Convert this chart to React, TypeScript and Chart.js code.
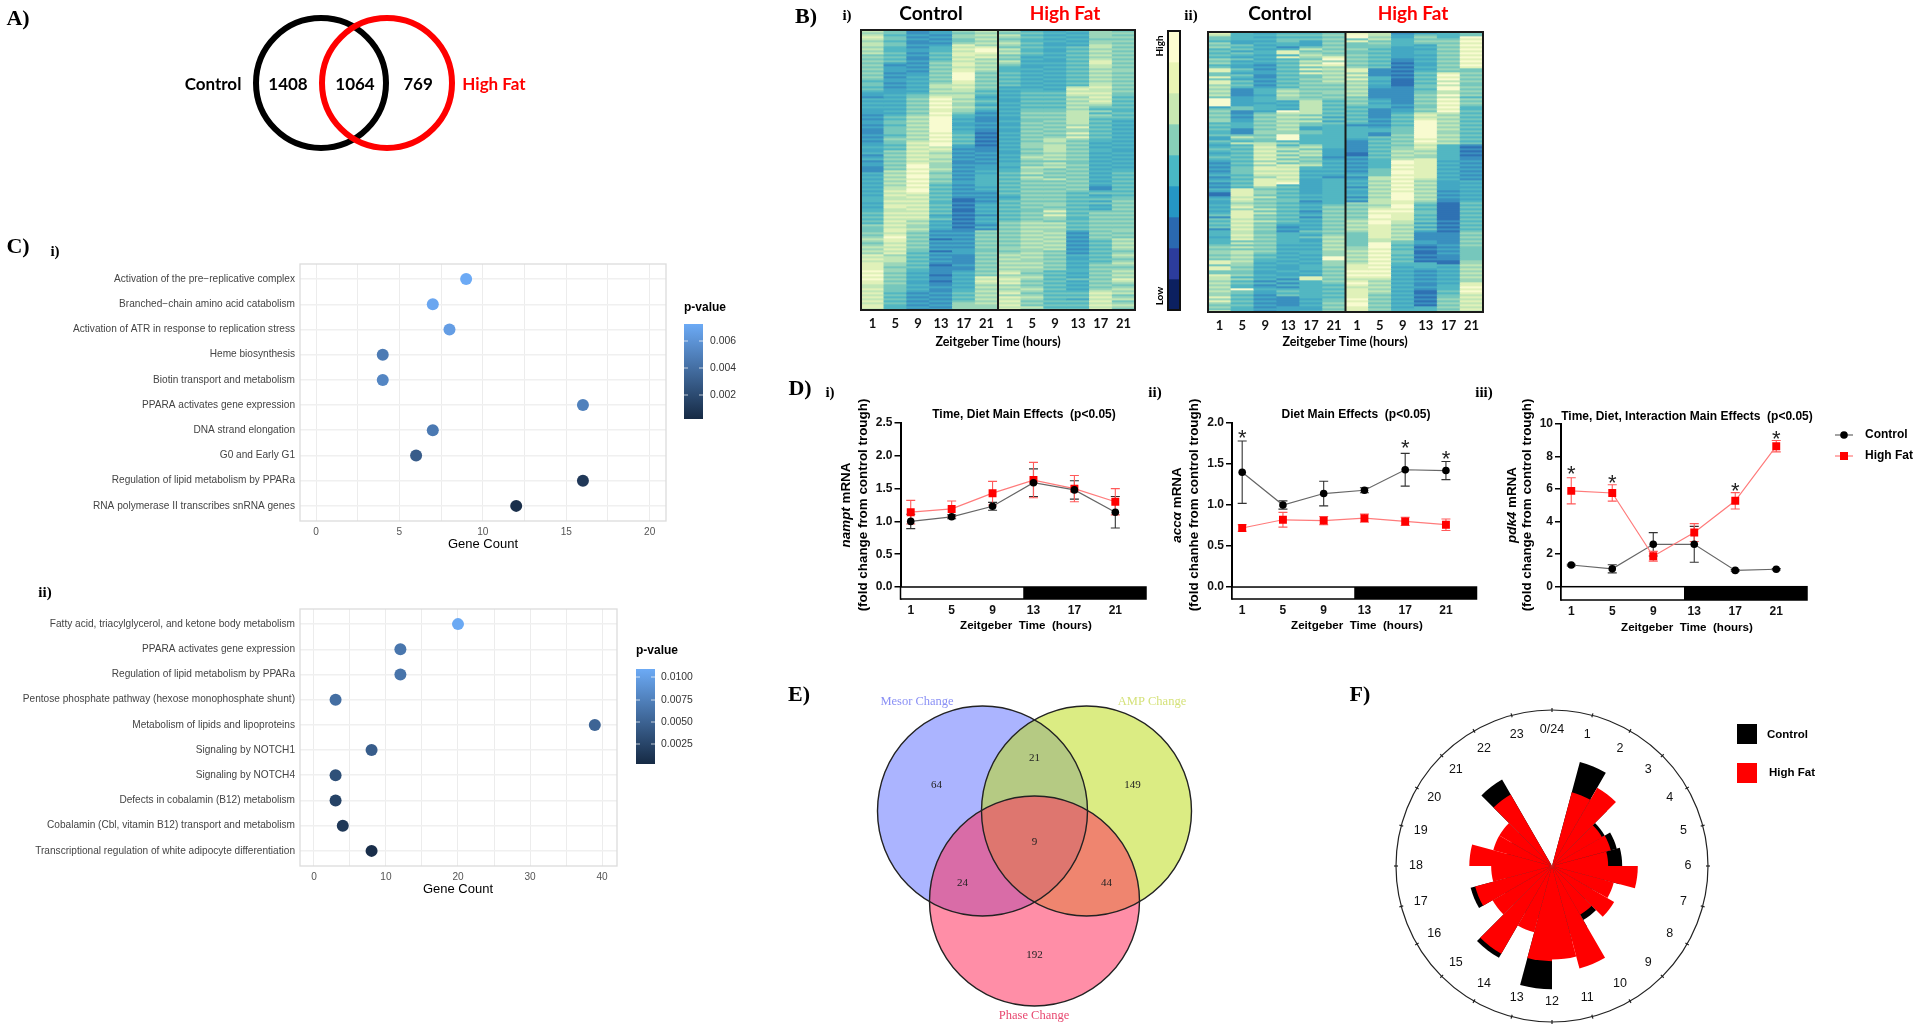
import React, { useEffect, useRef } from "react";
import { Chart, registerables } from "chart.js";

Chart.register(...registerables);

const SANS = '"Liberation Sans", Arial, sans-serif';
const SERIF = '"Liberation Serif", serif';
const LATO = 'Lato, "Noto Sans", sans-serif';

// ---------- Panel A ----------
const vennACounts = ["1408", "1064", "769"];
const vennANames = ["Control", "High Fat"];

// ---------- Panel B ----------
const heatHours = ["1", "5", "9", "13", "17", "21", "1", "5", "9", "13", "17", "21"];
// one string per heatmap column, top to bottom; each digit is a colour level
const heatColsI = [
  "7678767767 6756565656 5656545545 4332434343 3323233232 2232323343 3423423322 2434343434 3434443434 4545454655 5656765676 7687878888 9898988778 7878787887",
  "5545545544 4545453233 3232332323 3343434343 4345455455 5545655454 6565656565 7676767677 8787787887 7878787878 8789887878 7867776656 6565656555 5454545444",
  "2232322323 3232232323 2334343434 3455656565 6567676767 6767678787 8787878998 9899898989 9878787878 7878767667 6565656565 5454545454 4343433434 3232323232",
  "3323232344 4545456565 6565656776 7678989898 8989999999 9898989978 7677676667 6566565454 5454544545 4534534343 2323132323 1323232122 2212212232 2323232323",
  "6566556878 7887878878 8999988787 7677676676 6544343343 4454545332 3232322323 2323233232 3232112121 1212121212 2323232323 3322222322 3434343434 4545456666",
  "7676767689 9878676767 6565656565 4543454354 3232223232 2121212122 2323232333 4344444434 3232323434 3424343242 6565656565 5656565656 5658787676 7676767666",
  "6576567657 6756576544 4545454534 3434334343 4343343343 3434343434 3343434434 4545454545 4543454545 4545456565 6565656566 5676767676 7867878676 7868787878",
  "4545445454 4543434334 3434343434 4545454545 5656556565 6565656665 6567656576 6757656565 6565656565 5656567676 7676767676 6767667676 6567656567 6567656576",
  "3434343343 3434334343 4343434343 4545454545 5656565656 5656776777 7676757675 6565756565 6565656656 8686657676 6767676767 5656565656 4545454545 4545454545",
  "4343434354 5454545454 5454545478 7876767676 7777777686 6868656565 6565655656 5656565656 5454545454 5454454545 3232323232 3243343434 4343534343 4545354545",
  "6666566776 7676788776 7676767787 7878787654 6465454545 4545443434 4343434343 4343434322 4534535343 5656565656 5656545454 5454545656 5656565656 7878787878",
  "5656565656 5656565656 6565656565 6554545454 4545434343 4343434343 3434343434 4545454545 4545565656 5656565656 6565767676 5676567656 7676876567 6756756765",
];
const heatColsII = [
  "8755465645 4546564588 5585886767 6759999356 5656645454 4533543454 3454323232 3423423243 1134334343 4525454524 4434445656 6565885885 5877676767 6686865658",
  "4444335453 5435343354 3543545422 2233333552 2323344422 2575474545 4545454555 5454545488 8878767868 8887878787 7878575757 7676766565 5646454495 5454545444",
  "3434343434 4343432323 3223232344 4344434443 5656565656 6565577878 7878686887 8768888656 6575656575 7565756565 5656565656 5454434343 3434242343 3232323232",
  "4545544248 8484545454 5454545467 6766343439 7676767676 6999464675 7575758787 8787894545 4545545454 5454543232 4444443434 3434343334 3342424245 4522222333",
  "4545333575 6765768585 8556565656 5656777777 7575755335 5444446757 6756567443 4343333333 3434234342 3424343435 4353343434 4343434443 4388444444 4443434334",
  "5656565656 5689698676 7676765656 6565454545 4535354444 4444444433 3323434343 4324444444 4444445656 5656565656 5676767676 6699666565 6565654545 4545565656",
  "8995855565 5656565688 6868676767 6756565454 5454542444 4443222222 1132323232 3423434243 3424265656 5656767676 5555555667 6767678889 8987898788 8889899888",
  "7767565545 4545454522 2244343322 2223434422 2223232344 2254545454 5454444455 5577676767 6767776789 8998998888 8887799989 8989898989 8987676767 6565656565",
  "2334444333 3332212121 2121111222 2222223233 4545454555 5656565667 6767998989 9898989898 9999889989 8888776767 6767554545 5454544343 4343434343 4343434344",
  "3565653434 4343433434 5454545545 5656565565 7878999999 9998987876 7668888888 8887676767 6767654545 5454535353 2222332121 1212144432 3232322321 1212121444",
  "4445656565 6565656565 8989797997 7979898989 7676767676 6767674444 4444343434 3434333332 3232211111 1111212121 2222223232 3222114343 4343434445 4556565656",
  "5598989898 9898989855 6565655656 5646565445 4545454545 4545452121 2122323232 3232434343 4343454545 4545454545 6565656555 5555667676 7676688989 8787878787",
];
const heatRowCount = 140;
const heatLevels: any = {
  "1": "#2f72b3", "2": "#3a90bf", "3": "#43a8c3", "4": "#52b7c2", "5": "#76c7bc",
  "6": "#9bd6b9", "7": "#c1e6b6", "8": "#e0f1b9", "9": "#f8fbd0",
};
const colorbarSteps = ["#fdfdd0", "#e9f5b5", "#c8e8b2", "#88cfb8", "#49b7c4", "#2596c4", "#2a69b0", "#2c3c9c", "#0c2060"];

// ---------- Panel C ----------
const pathwaysI = [
  "Activation of the pre\u2212replicative complex", "Branched\u2212chain amino acid catabolism",
  "Activation of ATR in response to replication stress", "Heme biosynthesis", "Biotin transport and metabolism",
  "PPARA activates gene expression", "DNA strand elongation", "G0 and Early G1",
  "Regulation of lipid metabolism by PPARa", "RNA polymerase II transcribes snRNA genes",
];
const geneCountI = [9, 7, 8, 4, 4, 16, 7, 6, 16, 12];
const pValueI = [0.0073, 0.0071, 0.0066, 0.0047, 0.0053, 0.005, 0.0046, 0.003, 0.001, 0.0005];
const pathwaysII = [
  "Fatty acid, triacylglycerol, and ketone body metabolism", "PPARA activates gene expression",
  "Regulation of lipid metabolism by PPARa", "Pentose phosphate pathway (hexose monophosphate shunt)",
  "Metabolism of lipids and lipoproteins", "Signaling by NOTCH1", "Signaling by NOTCH4",
  "Defects in cobalamin (B12) metabolism", "Cobalamin (Cbl, vitamin B12) transport and metabolism",
  "Transcriptional regulation of white adipocyte differentiation",
];
const geneCountII = [20, 12, 12, 3, 39, 8, 3, 3, 4, 8];
const pValueII = [0.0108, 0.0066, 0.0064, 0.0059, 0.0051, 0.0045, 0.0034, 0.0023, 0.0014, 0.0006];

// ---------- Panel D ----------
const zeitgeber = [1, 5, 9, 13, 17, 21];
const namptControl = [1.0, 1.07, 1.23, 1.59, 1.48, 1.14];
const namptControlErr = [0.11, 0.03, 0.06, 0.21, 0.14, 0.24];
const namptHighFat = [1.14, 1.19, 1.43, 1.63, 1.5, 1.3];
const namptHighFatErr = [0.18, 0.12, 0.18, 0.27, 0.2, 0.2];
const accControl = [1.4, 1.0, 1.14, 1.18, 1.43, 1.42];
const accControlErr = [0.38, 0.05, 0.15, 0.03, 0.2, 0.11];
const accHighFat = [0.72, 0.82, 0.81, 0.84, 0.8, 0.76];
const accHighFatErr = [0.04, 0.09, 0.05, 0.05, 0.05, 0.07];
const pdkControl = [1.33, 1.1, 2.6, 2.6, 1.0, 1.07];
const pdkControlErr = [0.05, 0.25, 0.72, 1.1, 0.05, 0.05];
const pdkHighFat = [5.88, 5.75, 1.87, 3.32, 5.27, 8.62];
const pdkHighFatErr = [0.8, 0.5, 0.3, 0.55, 0.5, 0.35];
const accStars = [[1, 1.89], [17, 1.77], [21, 1.63]];
const pdkStars = [[1, 7.28], [5, 6.75], [17, 6.24], [21, 9.45]];

// ---------- Panel E ----------
const vennESets = ["Mesor Change", "AMP Change", "Phase Change"];
const vennECounts = ["64", "21", "149", "9", "24", "44", "192"];

// ---------- Panel F ----------
const hourLabels = ["0/24","1","2","3","4","5","6","7","8","9","10","11","12","13","14","15","16","17","18","19","20","21","22","23"];
const roseControl = [0, 69, 50, 39, 43, 45, 45, 35, 30, 40, 45, 50, 79, 35, 68, 35, 54, 30, 30, 30, 30, 64, 0, 0];
const roseHighFat = [0, 49, 58, 37, 39, 36, 55, 41, 46, 36, 68, 60, 61, 44, 65, 44, 51, 39, 53, 39, 39, 53, 0, 0];

// ---------- helpers ----------
const W = 1920, H = 1032;
const basePlugins = { legend: { display: false }, tooltip: { enabled: false }, title: { display: false } };

function box(x0: number, y0: number, x1: number, y1: number, ml = 0, mb = 0) {
  return { padding: { left: x0 - ml, top: y0, right: W - x1, bottom: H - y1 - mb } };
}

function textLayer(items: any[]) {
  return {
    id: "textLayer",
    afterDraw(chart: any) {
      const c = chart.ctx;
      items.forEach((t) => {
        c.save();
        c.fillStyle = t.color || "#000";
        c.textBaseline = "middle";
        c.translate(t.x, t.y);
        if (t.rot) c.rotate(t.rot);
        if (t.parts) {
          let total = 0;
          t.parts.forEach((p: any) => { c.font = p.font; total += c.measureText(p.text).width; });
          let px = -total / 2;
          c.textAlign = "left";
          t.parts.forEach((p: any) => { c.font = p.font; c.fillText(p.text, px, 0); px += c.measureText(p.text).width; });
        } else {
          c.font = t.font;
          c.textAlign = t.align || "center";
          c.fillText(t.text, 0, 0);
        }
        c.restore();
      });
    },
  };
}

// ---- heatmap ----
function heatConfig(cols: string[], x0: number, y0: number, x1: number, y1: number, texts: any[]) {
  const clean = cols.map((s) => s.replace(/ /g, ""));
  const rowIndex = Array.from({ length: heatRowCount }, (_, r) => r);
  return {
    type: "bar",
    data: {
      labels: heatHours,
      datasets: rowIndex.map((r) => ({
        data: clean.map(() => 1),
        backgroundColor: clean.map((col) => heatLevels[col[r] || "5"]),
        barPercentage: 1, categoryPercentage: 1, borderWidth: 0,
      })),
    },
    options: {
      responsive: false, animation: false, events: [],
      layout: box(x0, y0, x1, y1, 0, 24),
      plugins: basePlugins,
      scales: {
        x: {
          stacked: true,
          afterFit: (s: any) => { s.height = 24; },
          grid: { display: false, drawTicks: false }, border: { display: false },
          ticks: { color: "#111", font: { family: LATO, size: 13, weight: "bold" }, autoSkip: false, maxRotation: 0, padding: 6 },
        },
        y: { stacked: true, display: false, reverse: true, min: 0, max: heatRowCount },
      },
    },
    plugins: [
      {
        id: "heatBack",
        beforeDatasetsDraw(chart: any) {
          const a = chart.chartArea;
          chart.ctx.fillStyle = "#62bcc2";
          chart.ctx.fillRect(a.left, a.top, a.width, a.height);
        },
        afterDatasetsDraw(chart: any) {
          const a = chart.chartArea, c = chart.ctx;
          c.strokeStyle = "#1a1a1a"; c.lineWidth = 2;
          c.strokeRect(a.left, a.top, a.width, a.height);
          const mid = (a.left + a.right) / 2;
          c.beginPath(); c.moveTo(mid, a.top); c.lineTo(mid, a.bottom); c.stroke();
        },
      },
      textLayer(texts),
    ],
  };
}

function colorbarConfig(texts: any[]) {
  return {
    type: "bar",
    data: {
      labels: ["scale"],
      datasets: colorbarSteps.map((color) => ({ data: [1], backgroundColor: color, barPercentage: 1, categoryPercentage: 1, borderWidth: 0 })),
    },
    options: {
      responsive: false, animation: false, events: [],
      layout: box(1168, 31, 1180, 310),
      plugins: basePlugins,
      scales: {
        x: { stacked: true, display: false },
        y: { stacked: true, display: false, reverse: true, min: 0, max: colorbarSteps.length },
      },
    },
    plugins: [
      {
        id: "barEdge",
        afterDatasetsDraw(chart: any) {
          const a = chart.chartArea, c = chart.ctx;
          c.strokeStyle = "#111"; c.lineWidth = 2;
          c.strokeRect(a.left, a.top, a.width, a.height);
        },
      },
      textLayer(texts),
    ],
  };
}

// ---- dot plot ----
const LOW = [22, 42, 68], HIGH = [108, 170, 245];
function pColor(p: number, pMin: number, pMax: number) {
  const t = Math.min(1, Math.max(0, (p - pMin) / (pMax - pMin)));
  const m = LOW.map((l, i) => Math.round(l + (HIGH[i] - l) * t));
  return `rgb(${m[0]},${m[1]},${m[2]})`;
}

function dotConfig(o: any) {
  const tickFont = { family: SANS, size: 10.1 };
  return {
    type: "scatter",
    data: {
      datasets: [{
        data: o.counts.map((x: number, i: number) => ({ x, y: i })),
        backgroundColor: o.ps.map((p: number) => pColor(p, o.pMin, o.pMax)),
        borderWidth: 0, pointRadius: 6,
      }],
    },
    options: {
      responsive: false, animation: false, events: [],
      layout: box(o.x0, o.y0, o.x1, o.y1, 295, 24),
      plugins: basePlugins,
      scales: {
        x: {
          type: "linear", min: o.xMin, max: o.xMax,
          afterFit: (s: any) => { s.height = 24; },
          border: { display: false },
          grid: { color: "#ececec", lineWidth: 1, drawTicks: false },
          ticks: {
            stepSize: o.xStep, includeBounds: false, autoSkip: false, maxRotation: 0, padding: 5,
            color: "#555", font: tickFont,
            callback: (v: number) => (v % o.xMajor === 0 ? String(v) : ""),
          },
        },
        y: {
          type: "linear", reverse: true, min: -0.6, max: 9.6,
          afterFit: (s: any) => { s.width = 295; },
          border: { display: false },
          grid: { color: "#f0f0f0", lineWidth: 1.6, drawTicks: false },
          ticks: {
            stepSize: 1, includeBounds: false, autoSkip: false, padding: 5,
            color: "#444", font: tickFont,
            callback: (v: number) => o.names[v],
          },
        },
      },
    },
    plugins: [
      {
        id: "panelEdge",
        beforeDatasetsDraw(chart: any) {
          const a = chart.chartArea, c = chart.ctx;
          c.strokeStyle = "#dcdcdc"; c.lineWidth = 1.3;
          c.strokeRect(a.left, a.top, a.width, a.height);
        },
        afterDraw(chart: any) {
          const c = chart.ctx, b = o.bar;
          const g = c.createLinearGradient(0, b.y0, 0, b.y1);
          g.addColorStop(0, `rgb(${HIGH.join(",")})`);
          g.addColorStop(1, `rgb(${LOW.join(",")})`);
          c.fillStyle = g;
          c.fillRect(b.x0, b.y0, b.x1 - b.x0, b.y1 - b.y0);
          c.strokeStyle = "rgba(255,255,255,.7)"; c.lineWidth = 1;
          b.ticks.forEach((y: number) => {
            c.beginPath(); c.moveTo(b.x0, y); c.lineTo(b.x0 + 4, y);
            c.moveTo(b.x1 - 4, y); c.lineTo(b.x1, y); c.stroke();
          });
        },
      },
      textLayer(o.texts),
    ],
  };
}

// ---- circadian line plot ----
function lineConfig(o: any) {
  const series = (vals: number[], errs: number[], color: string, lineColor: string, errColor: string, style: string, r: number, order: number) => ({
    data: zeitgeber.map((x, i) => ({ x, y: vals[i] })),
    errs, errColor,
    showLine: true, borderColor: lineColor, borderWidth: 1.2,
    pointStyle: style, pointRadius: r, pointBackgroundColor: color, pointBorderColor: color, pointBorderWidth: 0,
    order,
  });
  const tick = { family: SANS, size: 12, weight: "bold" };
  return {
    type: "scatter",
    data: {
      datasets: [
        series(o.ctrl, o.ctrlErr, "#000", "#666", "#333", "circle", 3.8, o.ctrlOrder),
        series(o.hf, o.hfErr, "#ff0000", "#ff7b7b", "#ff5a5a", "rect", 5.6, o.hfOrder),
      ],
    },
    options: {
      responsive: false, animation: false, events: [],
      layout: box(o.x0, o.y0, o.x1, o.y1, 30, 30),
      plugins: basePlugins,
      scales: {
        x: {
          type: "linear", min: 0, max: 24,
          afterFit: (s: any) => { s.height = 30; },
          afterBuildTicks: (s: any) => { s.ticks = zeitgeber.map((value) => ({ value })); },
          border: { display: false },
          grid: { display: false, drawTicks: false },
          ticks: { autoSkip: false, maxRotation: 0, padding: 4, color: "#111", font: tick, callback: (v: number) => String(v) },
        },
        y: {
          type: "linear", min: o.yMin, max: o.yMax,
          afterFit: (s: any) => { s.width = 30; },
          border: { color: "#000", width: 2 },
          grid: { drawOnChartArea: false, drawTicks: true, tickLength: 6, color: "#000", lineWidth: 1.5 },
          ticks: {
            stepSize: o.yStep, includeBounds: false, padding: 2, color: "#111", font: tick,
            callback: (v: number) => (o.yStep < 1 ? v.toFixed(1) : String(v)),
          },
        },
      },
    },
    plugins: [
      {
        id: "errorBars",
        beforeDatasetsDraw(chart: any) {
          const c = chart.ctx, xs = chart.scales.x, ys = chart.scales.y;
          chart.data.datasets.forEach((d: any) => {
            c.strokeStyle = d.errColor; c.lineWidth = 1.1;
            d.data.forEach((p: any, i: number) => {
              const x = xs.getPixelForValue(p.x);
              const t = ys.getPixelForValue(p.y + d.errs[i]);
              const b = ys.getPixelForValue(p.y - d.errs[i]);
              c.beginPath();
              c.moveTo(x, t); c.lineTo(x, b);
              c.moveTo(x - 4.5, t); c.lineTo(x + 4.5, t);
              c.moveTo(x - 4.5, b); c.lineTo(x + 4.5, b);
              c.stroke();
            });
          });
        },
        afterDatasetsDraw(chart: any) {
          const c = chart.ctx, xs = chart.scales.x, ys = chart.scales.y;
          const y0 = ys.getPixelForValue(0), y1 = ys.getPixelForValue(o.yMin);
          const x0 = xs.getPixelForValue(0), xm = xs.getPixelForValue(12), x2 = xs.getPixelForValue(24);
          c.fillStyle = "#fff"; c.fillRect(x0, y0, xm - x0, y1 - y0);
          c.fillStyle = "#000"; c.fillRect(xm, y0, x2 - xm, y1 - y0);
          c.strokeStyle = "#000"; c.lineWidth = 1.5; c.strokeRect(x0, y0, x2 - x0, y1 - y0);
          c.fillStyle = "#222"; c.font = `22px ${SANS}`; c.textAlign = "center"; c.textBaseline = "alphabetic";
          (o.stars || []).forEach((s: number[]) => {
            c.fillText("*", xs.getPixelForValue(s[0]), ys.getPixelForValue(s[1]) + 13);
          });
        },
      },
      textLayer(o.texts),
    ],
  };
}

const yTitleBold = `bold 13.4px ${SANS}`;
const yGeneItalic = `italic bold 13.4px ${SANS}`;
const titleFont = `bold 12px ${SANS}`;
const xTitleFont = `bold 11.6px ${SANS}`;
const rot90 = -Math.PI / 2;
const labelFont = `bold 22px ${SERIF}`;
const subFont = `bold 15px ${SERIF}`;

export default function App() {
  const refs = useRef<any[]>([]);

  useEffect(() => {
    const configs: any[] = [];

    // ---- A ----
    configs.push({
      type: "bubble",
      data: {
        datasets: [
          { data: [{ x: -33, y: 0, r: 65 }], backgroundColor: "rgba(0,0,0,0)", borderColor: "#000", borderWidth: 6, order: 2, clip: false },
          { data: [{ x: 33, y: 0, r: 65 }], backgroundColor: "rgba(0,0,0,0)", borderColor: "#ff0000", borderWidth: 6, order: 1, clip: false },
        ],
      },
      options: {
        responsive: false, animation: false, events: [],
        layout: box(154, 73, 554, 93),
        plugins: basePlugins,
        scales: { x: { display: false, min: -200, max: 200 }, y: { display: false, min: -10, max: 10, reverse: true } },
      },
      plugins: [textLayer([
        { text: "A)", x: 18, y: 19, font: labelFont },
        { text: vennANames[0], x: 213, y: 85, font: `bold 17px ${LATO}` },
        { text: vennACounts[0], x: 288, y: 85, font: `bold 17px ${LATO}` },
        { text: vennACounts[1], x: 355, y: 85, font: `bold 17px ${LATO}` },
        { text: vennACounts[2], x: 418, y: 85, font: `bold 17px ${LATO}` },
        { text: vennANames[1], x: 494, y: 85, font: `bold 17px ${LATO}`, color: "#ff0000" },
      ])],
    });

    // ---- B ----
    const headFont = `bold 19px ${LATO}`;
    const xFont = `bold 12.5px ${LATO}`;
    configs.push(heatConfig(heatColsI, 861, 30, 1135, 310, [
      { text: "B)", x: 806, y: 17, font: labelFont },
      { text: "i)", x: 847, y: 16, font: subFont },
      { text: "Control", x: 931, y: 14, font: headFont },
      { text: "High Fat", x: 1065, y: 14, font: headFont, color: "#ff0000" },
      { text: "Zeitgeber Time (hours)", x: 998, y: 342, font: xFont },
    ]));
    configs.push(colorbarConfig([
      { text: "High", x: 1160, y: 46, font: `bold 10px ${LATO}`, rot: rot90 },
      { text: "Low", x: 1160, y: 296, font: `bold 10px ${LATO}`, rot: rot90 },
    ]));
    configs.push(heatConfig(heatColsII, 1208, 32, 1483, 312, [
      { text: "ii)", x: 1191, y: 16, font: subFont },
      { text: "Control", x: 1280, y: 14, font: headFont },
      { text: "High Fat", x: 1413, y: 14, font: headFont, color: "#ff0000" },
      { text: "Zeitgeber Time (hours)", x: 1345, y: 342, font: xFont },
    ]));

    // ---- C ----
    const pvFont = `bold 12px ${SANS}`;
    const legFont = `10.4px ${SANS}`;
    const gcFont = `13px ${SANS}`;
    configs.push(dotConfig({
      names: pathwaysI, counts: geneCountI, ps: pValueI, pMin: 0.0002, pMax: 0.0073,
      x0: 300, y0: 264, x1: 666, y1: 521, xMin: -0.96, xMax: 20.98, xStep: 2.5, xMajor: 5,
      bar: { x0: 684, x1: 703, y0: 324, y1: 419, ticks: [341, 368, 395] },
      texts: [
        { text: "C)", x: 18, y: 247, font: labelFont },
        { text: "i)", x: 55, y: 252, font: subFont },
        { text: "p-value", x: 684, y: 308, font: pvFont, align: "left" },
        { text: "0.006", x: 710, y: 341, font: legFont, align: "left", color: "#333" },
        { text: "0.004", x: 710, y: 368, font: legFont, align: "left", color: "#333" },
        { text: "0.002", x: 710, y: 395, font: legFont, align: "left", color: "#333" },
        { text: "Gene Count", x: 483, y: 544, font: gcFont },
      ],
    }));
    configs.push(dotConfig({
      names: pathwaysII, counts: geneCountII, ps: pValueII, pMin: 0.00026, pMax: 0.0109,
      x0: 300, y0: 609, x1: 617, y1: 866, xMin: -1.94, xMax: 42.08, xStep: 5, xMajor: 10,
      bar: { x0: 636, x1: 655, y0: 669, y1: 764, ticks: [677, 700, 722, 744] },
      texts: [
        { text: "ii)", x: 45, y: 593, font: subFont },
        { text: "p-value", x: 636, y: 651, font: pvFont, align: "left" },
        { text: "0.0100", x: 661, y: 677, font: legFont, align: "left", color: "#333" },
        { text: "0.0075", x: 661, y: 700, font: legFont, align: "left", color: "#333" },
        { text: "0.0050", x: 661, y: 722, font: legFont, align: "left", color: "#333" },
        { text: "0.0025", x: 661, y: 744, font: legFont, align: "left", color: "#333" },
        { text: "Gene Count", x: 458, y: 889, font: gcFont },
      ],
    }));

    // ---- D ----
    configs.push(lineConfig({
      ctrl: namptControl, ctrlErr: namptControlErr, hf: namptHighFat, hfErr: namptHighFatErr,
      ctrlOrder: 1, hfOrder: 2,
      x0: 900.5, x1: 1146, y0: 423, y1: 599, yMin: -0.183, yMax: 2.5, yStep: 0.5,
      texts: [
        { text: "D)", x: 800, y: 389, font: labelFont },
        { text: "i)", x: 830, y: 393, font: subFont },
        { text: "Time, Diet Main Effects  (p<0.05)", x: 1024, y: 415, font: titleFont },
        { text: "Zeitgeber  Time  (hours)", x: 1026, y: 626, font: xTitleFont },
        { rot: rot90, x: 846, y: 505, parts: [{ text: "nampt", font: yGeneItalic }, { text: " mRNA", font: yTitleBold }] },
        { text: "(fold change from control trough)", rot: rot90, x: 863, y: 505, font: yTitleBold },
      ],
    }));
    configs.push(lineConfig({
      ctrl: accControl, ctrlErr: accControlErr, hf: accHighFat, hfErr: accHighFatErr,
      ctrlOrder: 1, hfOrder: 2, stars: accStars,
      x0: 1232, x1: 1476.5, y0: 423, y1: 599, yMin: -0.146, yMax: 2, yStep: 0.5,
      texts: [
        { text: "ii)", x: 1155, y: 393, font: subFont },
        { text: "Diet Main Effects  (p<0.05)", x: 1356, y: 415, font: titleFont },
        { text: "Zeitgeber  Time  (hours)", x: 1357, y: 626, font: xTitleFont },
        { rot: rot90, x: 1177, y: 505, parts: [{ text: "acc\u03b1", font: yGeneItalic }, { text: " mRNA", font: yTitleBold }] },
        { text: "(fold chanhe from control trough)", rot: rot90, x: 1194, y: 505, font: yTitleBold },
      ],
    }));
    configs.push(lineConfig({
      ctrl: pdkControl, ctrlErr: pdkControlErr, hf: pdkHighFat, hfErr: pdkHighFatErr,
      ctrlOrder: 2, hfOrder: 1, stars: pdkStars,
      x0: 1561, x1: 1807, y0: 423.7, y1: 600, yMin: -0.816, yMax: 10, yStep: 2,
      texts: [
        { text: "iii)", x: 1484, y: 393, font: subFont },
        { text: "Time, Diet, Interaction Main Effects  (p<0.05)", x: 1687, y: 417, font: titleFont },
        { text: "Zeitgeber  Time  (hours)", x: 1687, y: 628, font: xTitleFont },
        { rot: rot90, x: 1512, y: 505, parts: [{ text: "pdk4", font: yGeneItalic }, { text: " mRNA", font: yTitleBold }] },
        { text: "(fold change from control trough)", rot: rot90, x: 1527, y: 505, font: yTitleBold },
        { text: "Control", x: 1865, y: 435, font: `bold 12px ${SANS}`, align: "left" },
        { text: "High Fat", x: 1865, y: 456, font: `bold 12px ${SANS}`, align: "left" },
      ],
    }));
    configs[configs.length - 1].plugins.push({
      id: "lineLegend",
      afterDraw(chart: any) {
        const c = chart.ctx;
        c.lineWidth = 1.2;
        c.strokeStyle = "#666"; c.beginPath(); c.moveTo(1835, 435); c.lineTo(1853, 435); c.stroke();
        c.fillStyle = "#000"; c.beginPath(); c.arc(1844, 435, 3.8, 0, Math.PI * 2); c.fill();
        c.strokeStyle = "#ff7b7b"; c.beginPath(); c.moveTo(1835, 456); c.lineTo(1853, 456); c.stroke();
        c.fillStyle = "#ff0000"; c.fillRect(1840, 452, 8, 8);
      },
    });

    // ---- E ----
    const numFont = `11px ${SERIF}`;
    const nameFont = `12.5px ${SERIF}`;
    const eItems = [[-98, -56], [0, -83], [98, -56], [0, 1], [-72, 42], [72, 42], [0, 114]];
    configs.push({
      type: "bubble",
      data: {
        datasets: [
          { data: [{ x: -52, y: -30, r: 105 }], backgroundColor: "rgba(102,119,255,.55)", borderWidth: 0, order: 3, clip: false },
          { data: [{ x: 52, y: -30, r: 105 }], backgroundColor: "rgba(190,220,30,.55)", borderWidth: 0, order: 2, clip: false },
          { data: [{ x: 0, y: 60, r: 105 }], backgroundColor: "rgba(255,50,95,.55)", borderWidth: 0, order: 1, clip: false },
        ],
      },
      options: {
        responsive: false, animation: false, events: [],
        layout: box(834.5, 691, 1234.5, 921),
        plugins: basePlugins,
        scales: { x: { display: false, min: -200, max: 200 }, y: { display: false, min: -150, max: 80, reverse: true } },
      },
      plugins: [
        {
          id: "vennOutline",
          afterDatasetsDraw(chart: any) {
            const c = chart.ctx;
            c.strokeStyle = "#222"; c.lineWidth = 1.4;
            chart.data.datasets.forEach((d: any, i: number) => {
              const el = chart.getDatasetMeta(i).data[0];
              c.beginPath(); c.arc(el.x, el.y, d.data[0].r, 0, Math.PI * 2); c.stroke();
            });
          },
          afterDraw(chart: any) {
            const c = chart.ctx, xs = chart.scales.x, ys = chart.scales.y;
            c.fillStyle = "#222"; c.font = numFont; c.textAlign = "center"; c.textBaseline = "middle";
            vennECounts.forEach((t, i) => c.fillText(t, xs.getPixelForValue(eItems[i][0]), ys.getPixelForValue(eItems[i][1])));
          },
        },
        textLayer([
          { text: "E)", x: 799, y: 695, font: labelFont },
          { text: vennESets[0], x: 917, y: 702, font: nameFont, color: "#8a90f5" },
          { text: vennESets[1], x: 1152, y: 702, font: nameFont, color: "#d5e27a" },
          { text: vennESets[2], x: 1034, y: 1016, font: nameFont, color: "#e8476f" },
        ]),
      ],
    });

    // ---- F ----
    configs.push({
      type: "polarArea",
      data: {
        labels: hourLabels,
        datasets: [
          { label: "High Fat", data: roseHighFat, backgroundColor: "#ff0000", borderWidth: 0, order: 1 },
          { label: "Control", data: roseControl, backgroundColor: "#000", borderWidth: 0, order: 2 },
        ],
      },
      options: {
        responsive: false, animation: false, events: [],
        layout: box(1396, 710, 1708, 1022),
        plugins: basePlugins,
        scales: {
          r: {
            min: 0, max: 100,
            grid: { display: false }, angleLines: { display: false },
            ticks: { display: false }, pointLabels: { display: false },
          },
        },
      },
      plugins: [
        {
          id: "clockFace",
          afterDatasetsDraw(chart: any) {
            const c = chart.ctx, r = chart.scales.r;
            const R = r.drawingArea;
            c.strokeStyle = "#222"; c.lineWidth = 1.2;
            c.beginPath(); c.arc(r.xCenter, r.yCenter, R, 0, Math.PI * 2); c.stroke();
            c.fillStyle = "#111"; c.font = `12.5px ${SANS}`; c.textAlign = "center"; c.textBaseline = "middle";
            hourLabels.forEach((lab, i) => {
              const a = r.getPointPosition(i, R - 2), b = r.getPointPosition(i, R + 2);
              c.beginPath(); c.moveTo(a.x, a.y); c.lineTo(b.x, b.y); c.stroke();
              const p = r.getPointPosition(i, R - 20);
              c.fillText(lab, p.x, p.y);
            });
            c.fillStyle = "#000"; c.fillRect(1737, 724, 20, 20);
            c.fillStyle = "#ff0000"; c.fillRect(1737, 763, 20, 20);
          },
        },
        textLayer([
          { text: "F)", x: 1360, y: 695, font: labelFont },
          { text: "Control", x: 1767, y: 735, font: `bold 11.5px ${SANS}`, align: "left" },
          { text: "High Fat", x: 1769, y: 773, font: `bold 11.5px ${SANS}`, align: "left" },
        ]),
      ],
    });

    const charts = configs.map((cfg, i) => new Chart(refs.current[i], cfg));
    return () => charts.forEach((ch) => ch.destroy());
  }, []);

  return (
    <div style={{ position: "absolute", left: 0, top: 0, width: W, height: H, background: "#fff", overflow: "hidden" }}>
      {Array.from({ length: 11 }).map((_, i) => (
        <canvas
          key={i}
          ref={(el) => { refs.current[i] = el; }}
          width={W}
          height={H}
          style={{ position: "absolute", left: 0, top: 0, width: W, height: H }}
        />
      ))}
    </div>
  );
}
